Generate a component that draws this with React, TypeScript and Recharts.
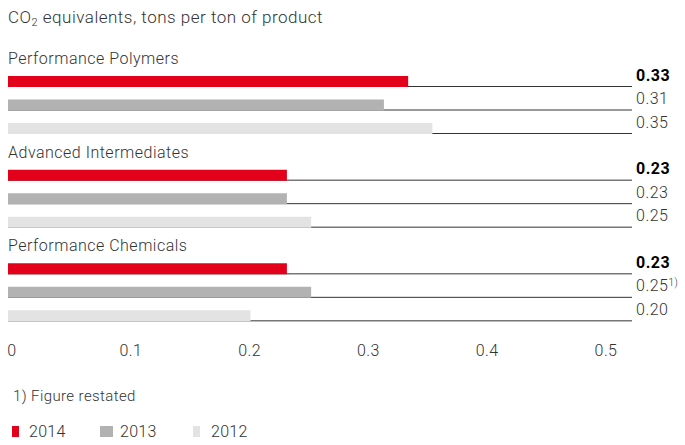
import { BarChart, Bar, XAxis, YAxis } from "recharts";

const categories = ["Performance Polymers", "Advanced Intermediates", "Performance Chemicals"];
const values2014 = [0.33, 0.23, 0.23];
const values2013 = [0.31, 0.23, 0.25];
const values2012 = [0.35, 0.25, 0.2];
const notes2013 = ["", "", "1)"];
const xTicks = [0, 0.1, 0.2, 0.3, 0.4, 0.5];
const years = ["2014", "2013", "2012"];
const colors = ["#e2001a", "#b2b2b2", "#e3e3e3"];

const data = categories.map((name, i) => ({
  name,
  y2014: values2014[i],
  y2013: values2013[i],
  y2012: values2012[i],
}));

const FONT = "Roboto, 'Liberation Sans', sans-serif";
const TEXT = "#333";

// underline from bar end to the right edge + the value label
function rowLine(values: number[], notes: string[] | null, bold: boolean) {
  return (p: any) => {
    const { x, y, width, height, index } = p;
    const ly = y + height - 0.5;
    const note = notes ? notes[index] : "";
    return (
      <g key={`bg-${index}`}>
        <line x1={x} x2={x + width} y1={ly} y2={ly} stroke="#333" strokeWidth={1} />
        <text
          x={x + width + 4}
          y={ly - 6}
          fontSize={16}
          letterSpacing={0.5}
          fontWeight={bold ? 700 : 300}
          fill={bold ? "#000" : TEXT}
        >
          {values[index].toFixed(2)}
          {note ? (
            <tspan dy={-5} fontSize={10}>
              {note}
            </tspan>
          ) : null}
        </text>
      </g>
    );
  };
}

const categoryTick = (props: any) => {
  const { y, payload } = props;
  return (
    <text x={8} y={y - 41} fontSize={16} letterSpacing={0.5} fontWeight={300} fill={TEXT}>
      {payload.value}
    </text>
  );
};

const valueTick = (props: any) => {
  const { x, y, payload } = props;
  return (
    <text x={x} y={y} dy={9} textAnchor="middle" fontSize={16} letterSpacing={0.4} fontWeight={300} fill={TEXT}>
      {payload.value}
    </text>
  );
};

export default function App() {
  return (
    <div
      style={{
        position: "absolute",
        left: 0,
        top: 0,
        width: 685,
        height: 445,
        background: "#fff",
        fontFamily: FONT,
        color: TEXT,
      }}
    >
      <div style={{ position: "absolute", left: 8, top: 7, fontSize: 17, fontWeight: 300, letterSpacing: 0.5 }}>
        CO<sub style={{ fontSize: 11, verticalAlign: -3 }}>2</sub> equivalents, tons per ton of product
      </div>
      <BarChart
        width={685}
        height={445}
        layout="vertical"
        data={data}
        margin={{ top: 58, right: 53, left: 7, bottom: 76 }}
        barGap={12.5}
        barSize={11}
      >
        <XAxis xAxisId="bars" type="number" domain={[0, 0.5146]} height={0} hide />
        <XAxis
          xAxisId="labels"
          type="number"
          domain={[0, 0.5]}
          allowDataOverflow
          ticks={xTicks}
          padding={{ left: 4, right: 26 }}
          axisLine={false}
          tickLine={false}
          height={30}
          tick={valueTick}
        />
        <YAxis
          type="category"
          dataKey="name"
          width={1}
          axisLine={false}
          tickLine={false}
          tick={categoryTick}
        />
        <Bar
          xAxisId="bars"
          dataKey="y2014"
          fill={colors[0]}
          isAnimationActive={false}
          background={rowLine(values2014, null, true)}
        />
        <Bar
          xAxisId="bars"
          dataKey="y2013"
          fill={colors[1]}
          isAnimationActive={false}
          background={rowLine(values2013, notes2013, false)}
        />
        <Bar
          xAxisId="bars"
          dataKey="y2012"
          fill={colors[2]}
          isAnimationActive={false}
          background={rowLine(values2012, null, false)}
        />
      </BarChart>
      <div style={{ position: "absolute", left: 13, top: 387, fontSize: 15, fontWeight: 300, letterSpacing: 0.4 }}>
        1) Figure restated
      </div>
      <div style={{ position: "absolute", left: 0, top: 422, fontSize: 16, fontWeight: 300, letterSpacing: 0.3 }}>
        {years.map((yr, i) => (
          <div
            key={yr}
            style={{ position: "absolute", left: [12, 100, 193][i], top: 0, display: "flex", alignItems: "center", whiteSpace: "nowrap" }}
          >
            <span style={{ width: [7, 13, 7][i], height: 11, background: colors[i], marginRight: [10, 7, 11][i] }} />
            <span>{yr}</span>
          </div>
        ))}
      </div>
    </div>
  );
}
